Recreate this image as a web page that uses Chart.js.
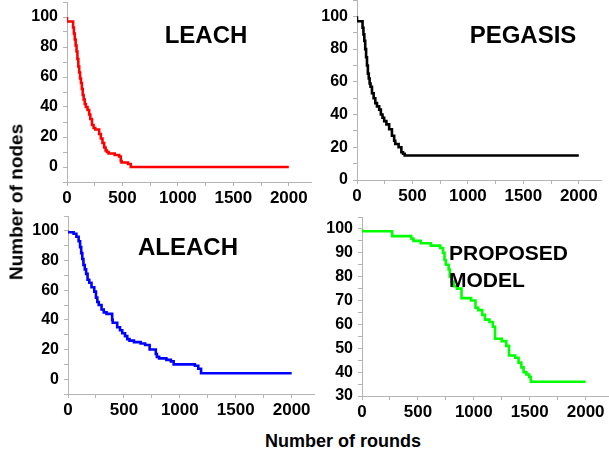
<!DOCTYPE html>
<html>
<head>
<meta charset="utf-8">
<script src="https://cdn.jsdelivr.net/npm/chart.js@4"></script>
<style>
  html, body { margin: 0; padding: 0; background: #ffffff; width: 609px; height: 454px; overflow: hidden; position: relative; }
  canvas { position: absolute; }
  .t { position: absolute; font-family: "Liberation Sans", Arial, sans-serif; font-weight: bold; color: #000; white-space: nowrap; line-height: 1; transform: translate(-50%, -50%); }
</style>
</head>
<body>
<canvas id="c1"></canvas>
<canvas id="c2"></canvas>
<canvas id="c3"></canvas>
<canvas id="c4"></canvas>
<div class="t" style="left:206px; top:35px; font-size:24px;">LEACH</div>
<div class="t" style="left:523px; top:35px; font-size:24px;">PEGASIS</div>
<div class="t" style="left:188px; top:247px; font-size:24px;">ALEACH</div>
<div class="t" style="left:449px; top:266px; font-size:21px; line-height:27px; transform: translate(0, -50%);">PROPOSED<br>MODEL</div>
<div class="t" style="left:16px; top:202px; font-size:19px; transform: translate(-50%, -50%) rotate(-90deg);">Number of nodes</div>
<div class="t" style="left:343px; top:441px; font-size:18px;">Number of rounds</div>
<script>
// ---- Data (round at which the count changes, alive nodes from that round) ----
const leachRounds = [0, 55, 62, 70, 78, 86, 94, 102, 110, 118, 126, 134, 142, 150, 160, 170, 185, 200, 210, 225, 240, 255, 290, 305, 320, 335, 348, 360, 375, 430, 470, 485, 492, 550, 575, 600, 2000];
const leachNodes  = [100, 97, 93, 89, 85, 81, 77, 72, 67, 63, 59, 56, 52, 48, 45, 42, 40, 38, 35, 32, 28, 26, 25, 22, 19, 16, 13, 11, 10, 9, 8, 7, 4, 3, 2, 0, 0];

const pegasisRounds = [0, 50, 58, 66, 74, 82, 90, 98, 106, 114, 122, 135, 150, 165, 180, 200, 215, 230, 245, 265, 290, 315, 335, 345, 375, 400, 415, 430, 475, 2000];
const pegasisNodes  = [100, 97, 93, 89, 85, 80, 75, 70, 65, 62, 59, 57, 53, 50, 47, 45, 43, 40, 38, 36, 34, 31, 27, 24, 22, 20, 17, 16, 15, 15];

const aleachRounds = [0, 50, 75, 95, 108, 118, 128, 138, 150, 162, 175, 190, 210, 235, 250, 262, 275, 300, 320, 345, 395, 400, 440, 465, 485, 510, 530, 550, 590, 650, 690, 730, 785, 795, 815, 880, 920, 945, 1135, 1165, 1190, 1300, 2000];
const aleachNodes  = [100, 99, 98, 96, 93, 89, 85, 81, 77, 74, 71, 67, 65, 62, 59, 55, 52, 50, 47, 45, 44, 40, 38, 35, 33, 31, 29, 27, 26, 25, 24, 23, 20, 17, 15, 14, 13, 12, 10, 9, 7, 4, 4];

const proposedRounds = [0, 270, 440, 460, 525, 615, 700, 725, 738, 750, 775, 785, 800, 820, 850, 890, 975, 1015, 1040, 1075, 1100, 1140, 1170, 1190, 1250, 1290, 1315, 1370, 1400, 1425, 1445, 1470, 1495, 1510, 1540, 2000];
const proposedNodes  = [100, 99, 97, 96, 95, 94, 93, 92, 90, 87, 85, 83, 80, 78, 76, 75, 71, 70, 67, 66, 64, 62, 61, 59, 54, 53, 51, 47, 46, 44, 42, 40, 39, 38, 36, 36];

// ---- Tick values ----
const xTicks = [0, 250, 500, 750, 1000, 1250, 1500, 1750, 2000];
const xLabels = [0, 500, 1000, 1500, 2000];
const yTicksA = [-10, 0, 10, 20, 30, 40, 50, 60, 70, 80, 90, 100, 110];
const yTicksB = [0, 10, 20, 30, 40, 50, 60, 70, 80, 90, 100, 110];
const yLabelsA = [0, 20, 40, 60, 80, 100];
const yTicksC = [30, 35, 40, 45, 50, 55, 60, 65, 70, 75, 80, 85, 90, 95, 100, 105];
const yLabelsC = [30, 40, 50, 60, 70, 80, 90, 100];

const FONT = '"Liberation Sans", Arial, sans-serif';
const AXIS = '#b4b4b4';
const PADL = 70, PADT = 22, PADR = 6, PADB = 35;

function makePanel(id, area, rounds, nodes, color, yMin, yMax, yTicks, yLabels, xMax) {
  const cv = document.getElementById(id);
  const w = Math.round(area.r - area.l) + PADL + PADR;
  const h = Math.round(area.b - area.t) + PADT + PADB;
  cv.width = w; cv.height = h;
  cv.style.width = w + 'px'; cv.style.height = h + 'px';
  cv.style.left = (area.l - PADL) + 'px';
  cv.style.top = (area.t - PADT) + 'px';
  const pts = rounds.map((r, i) => ({ x: r, y: nodes[i] }));
  new Chart(cv, {
    type: 'line',
    data: { datasets: [{ data: pts, borderColor: color, borderWidth: 2.6, pointRadius: 0, stepped: 'after', tension: 0, fill: false }] },
    options: {
      responsive: false, animation: false, devicePixelRatio: 1,
      layout: { padding: { left: 0, top: PADT, right: PADR, bottom: 0 } },
      plugins: { legend: { display: false }, tooltip: { enabled: false }, title: { display: false } },
      scales: {
        x: {
          type: 'linear', min: 0, max: xMax,
          afterBuildTicks: s => { s.ticks = xTicks.map(v => ({ value: v })); },
          afterFit: s => { s.height = PADB; },
          grid: { display: true, drawOnChartArea: false, drawTicks: true, tickLength: 4, color: AXIS, lineWidth: 1 },
          border: { display: true, color: AXIS, width: 1 },
          ticks: { autoSkip: false, maxRotation: 0, padding: 2, color: '#000', font: { family: FONT, size: 17, weight: 'bold' },
                   callback: v => xLabels.includes(v) ? String(v) : '' }
        },
        y: {
          type: 'linear', min: yMin, max: yMax,
          afterBuildTicks: s => { s.ticks = yTicks.map(v => ({ value: v })); },
          afterFit: s => { s.width = PADL; },
          grid: { display: true, drawOnChartArea: false, drawTicks: true, tickLength: 4, color: AXIS, lineWidth: 1 },
          border: { display: true, color: AXIS, width: 1 },
          ticks: { autoSkip: false, padding: 5, color: '#000', font: { family: FONT, size: 16, weight: 'bold' },
                   callback: v => yLabels.includes(v) ? String(v) : '' }
        }
      }
    }
  });
}

makePanel('c1', { l: 67, t: 2, r: 311, b: 182 }, leachRounds, leachNodes, '#ff0000', -10, 110, yTicksA, yLabelsA, 2200);
makePanel('c2', { l: 357, t: 0, r: 601, b: 180 }, pegasisRounds, pegasisNodes, '#000000', 0, 110, yTicksB, yLabelsA, 2200);
makePanel('c3', { l: 68, t: 216, r: 314, b: 394 }, aleachRounds, aleachNodes, '#0000ff', -10, 110, yTicksA, yLabelsA, 2200);
makePanel('c4', { l: 362, t: 217, r: 608, b: 396 }, proposedRounds, proposedNodes, '#00ff00', 30, 105, yTicksC, yLabelsC, 2200);
</script>
</body>
</html>
